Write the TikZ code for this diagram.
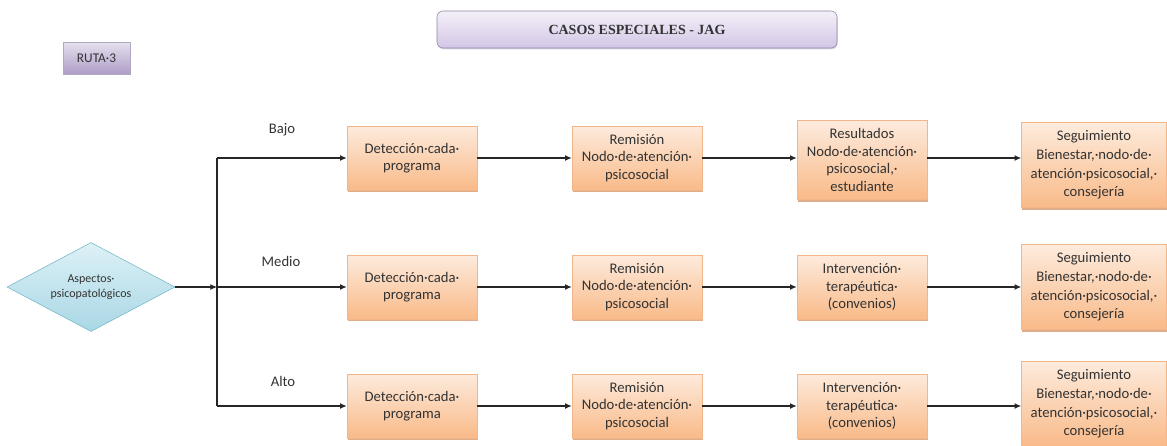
\documentclass[tikz,border=0pt]{standalone}
\usepackage{fontspec}
\setmainfont{Carlito}
\newfontfamily\titlefont{Liberation Serif}
\usepackage{tikz}
\usetikzlibrary{shapes.geometric, arrows.meta, positioning, shadows, calc}

\definecolor{boxtop}{HTML}{FDEBDD}
\definecolor{boxbot}{HTML}{F9BA88}
\definecolor{boxline}{HTML}{F3B58A}
\definecolor{boxshadow}{HTML}{D08A5A}
\definecolor{lavtop}{HTML}{F4F0F9}
\definecolor{lavbot}{HTML}{D3C6E6}
\definecolor{lavline}{HTML}{8E84A3}
\definecolor{rutatop}{HTML}{E6E0EE}
\definecolor{rutabot}{HTML}{AE9DC8}
\definecolor{diatop}{HTML}{DDF1F6}
\definecolor{diabot}{HTML}{A9D7E5}
\definecolor{dialine}{HTML}{72B6C8}
\definecolor{flecha}{HTML}{262626}
\definecolor{texto}{HTML}{333333}

\begin{document}
\begin{tikzpicture}[x=0.75pt, y=-0.75pt, font=\fontsize{11}{13.2}\selectfont, text=texto,
    paso/.style={draw=boxline, line width=0.4pt, top color=boxtop, bottom color=boxbot,
        align=center, minimum width=97.5pt, minimum height=48pt, inner sep=1pt,
        drop shadow={shadow xshift=0.6pt, shadow yshift=-1.5pt, fill=boxshadow, opacity=0.7}},
    segui/.style={paso, minimum width=108.75pt, minimum height=63.75pt,
        font=\fontsize{11}{14}\selectfont},
    nivel/.style={font=\fontsize{11}{13}\selectfont},
    flujo/.style={draw=flecha, line width=0.9pt}]
    \useasboundingbox (0,0) rectangle (1167,446);

    % encabezado
    \node[draw=lavline, rounded corners=4.5pt, top color=lavtop, bottom color=lavbot,
        minimum width=300pt, minimum height=27.75pt, font=\titlefont\bfseries\fontsize{10.5}{12}\selectfont,
        drop shadow={shadow xshift=0.5pt, shadow yshift=-1pt, fill=lavline, opacity=0.35}]
        (titulo) at (637,29.5) {CASOS ESPECIALES - JAG};
    \node[draw=lavline!70, line width=0.3pt, top color=rutatop, bottom color=rutabot,
        minimum width=50.25pt, minimum height=24pt, font=\fontsize{10}{12}\selectfont,
        drop shadow={shadow xshift=0.6pt, shadow yshift=-0.8pt, fill=lavline, opacity=0.5}]
        (ruta) at (96.5,58) {RUTA·3};

    % inicio
    \node[diamond, draw=dialine, line width=0.4pt, top color=diatop, bottom color=diabot,
        minimum width=126pt, minimum height=66.75pt, inner sep=0pt,
        label={[align=center, font=\fontsize{9}{11}\selectfont]center:Aspectos·\\psicopatológicos}]
        (asp) at (91,287) {};
    \coordinate (jb) at (217,158);
    \coordinate (jm) at (217,287);
    \coordinate (ja) at (217,406);

    % niveles
    \node[nivel] (lbajo) at (282,130) {Bajo};
    \node[nivel] (lmedio) at (281,261) {Medio};
    \node[nivel] (lalto) at (283,381) {Alto};

    % fila bajo
    \node[paso] (b1) at (412,158) {Detección·cada·\\programa};
    \node[paso] (b2) at (637,158) {Remisión\\Nodo·de·atención·\\psicosocial};
    \node[paso, minimum height=59.25pt] (b3) at (862,160) {Resultados\\Nodo·de·atención·\\psicosocial,·\\estudiante};
    \node[segui] (b4) at (1094,165) {Seguimiento\\Bienestar,·nodo·de·\\atención·psicosocial,·\\consejería};

    % fila medio
    \node[paso] (m1) at (412,287) {Detección·cada·\\programa};
    \node[paso] (m2) at (637,287) {Remisión\\Nodo·de·atención·\\psicosocial};
    \node[paso] (m3) at (862,287) {Intervención·\\terapéutica·\\(convenios)};
    \node[segui] (m4) at (1094,287) {Seguimiento\\Bienestar,·nodo·de·\\atención·psicosocial,·\\consejería};

    % fila alto
    \node[paso] (a1) at (412,406) {Detección·cada·\\programa};
    \node[paso] (a2) at (637,406) {Remisión\\Nodo·de·atención·\\psicosocial};
    \node[paso] (a3) at (862,406) {Intervención·\\terapéutica·\\(convenios)};
    \node[segui] (a4) at (1094,404) {Seguimiento\\Bienestar,·nodo·de·\\atención·psicosocial,·\\consejería};

    % conectores
    \tikzset{>={Latex[length=5pt, width=4.5pt]}}
    \draw[flujo] (jb) -- (ja);
    \draw[flujo, ->] (asp) -- (jm);
    \draw[flujo, ->] (jb) -- (b1);
    \draw[flujo, ->] (jm) -- (m1);
    \draw[flujo, ->] (ja) -- (a1);
    \draw[flujo, ->] (b1) -- (b2);
    \draw[flujo, ->] (b2.east) -- (b2.east -| b3.west);
    \draw[flujo, ->] (b2.east -| b3.east) -- (b2.east -| b4.west);
    \draw[flujo, ->] (m1) -- (m2);
    \draw[flujo, ->] (m2) -- (m3);
    \draw[flujo, ->] (m3) -- (m4);
    \draw[flujo, ->] (a1) -- (a2);
    \draw[flujo, ->] (a2) -- (a3);
    \draw[flujo, ->] (a3.east) -- (a3.east -| a4.west);
\end{tikzpicture}
\end{document}
